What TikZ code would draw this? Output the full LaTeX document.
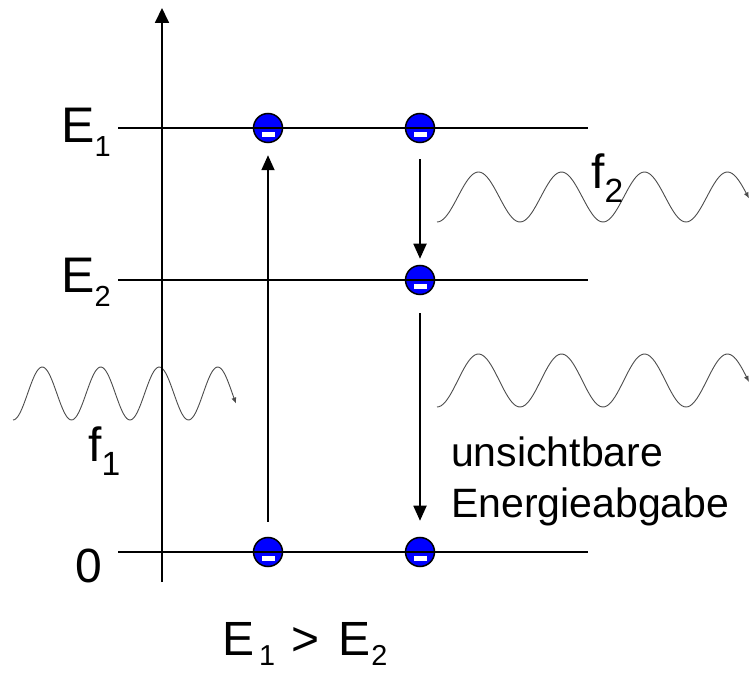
\documentclass[tikz,border=0pt]{standalone}
\usepackage{fontspec}
\setmainfont{Liberation Sans}
\usetikzlibrary{arrows.meta,positioning}
\newcommand{\idx}[3][0.58]{\raisebox{-#2}{\scalebox{#1}{#3}}}

\begin{document}
\begin{tikzpicture}[x=1pt,y=-1pt,
  level/.style={draw=black, line width=1.8pt},
  axis/.style={-{Triangle[length=15pt,width=14pt]}, draw=black, line width=1.8pt},
  electron/.style={circle, draw=black, line width=1.5pt, fill=blue,
    minimum size=29pt, inner sep=0pt,
    path picture={\fill[white] ([xshift=-6.5pt,yshift=-4pt]path picture bounding box.center)
      rectangle ++(13pt,-5pt);}},
  flow/.style={-{Triangle[length=15pt,width=13pt]}, draw=black, line width=1.8pt},
  wave/.style={draw=black!70, line width=0.9pt, -{Latex[length=6pt,width=5pt]}},
  lvltext/.style={font=\fontsize{50}{50}\selectfont, inner sep=0pt, anchor=base west},
  note/.style={font=\fontsize{41}{41}\selectfont, inner sep=0pt, anchor=base west}
]
\useasboundingbox (0,0) rectangle (756,676);

% photons
\draw[wave] plot[domain=13:236, samples=150] (\x, {393.5+26.5*cos(6.154*(\x-13))});
\draw[wave] plot[domain=437:749, samples=150] (\x, {197+25*cos(4.337*(\x-437))});
\draw[wave] plot[domain=437:749, samples=150] (\x, {380.5+26.5*cos(4.337*(\x-437))});

% energy axis
\coordinate (ybot) at (162,582);
\coordinate (ytop) at (162,8);
\draw[axis] (ybot) -- (ytop);

% electrons
\node[electron] (up1) at (268,128) {};
\node[electron] (up2) at (420,128) {};
\node[electron] (mid) at (420,280) {};
\node[electron] (gnd1) at (268,552) {};
\node[electron] (gnd2) at (420,552) {};

% levels
\coordinate (l1a) at (118,128); \coordinate (l1b) at (588,128);
\coordinate (l2a) at (118,280); \coordinate (l2b) at (588,280);
\coordinate (l0a) at (118,552); \coordinate (l0b) at (588,552);
\draw[level] (l1a) -- (l1b);
\draw[level] (l2a) -- (l2b);
\draw[level] (l0a) -- (l0b);

% transitions
\draw[flow, shorten <=15pt, shorten >=12pt] (gnd1) -- (up1);
\draw[flow, shorten <=16pt, shorten >=6pt] (up2) -- (mid);
\draw[flow, shorten <=18pt, shorten >=16pt] (mid) -- (gnd2);

% labels
\node[lvltext] (e1) at (61,143) {E\idx{0.28em}{1}};
\node[lvltext] (e2) at (61,293) {E\idx{0.28em}{2}};
\node[lvltext, font=\fontsize{48}{48}\selectfont] (zero) at (75,583) {0};
\node[lvltext, font=\fontsize{48}{48}\selectfont] (f1) at (88,462) {f\idx[0.7]{0.28em}{1}};
\node[lvltext, font=\fontsize{48}{48}\selectfont] (f2) at (591,189) {f\idx[0.7]{0.28em}{2}};
\node[note] (note1) at (451,467) {unsichtbare};
\node[note] (note2) at (451,518) {Energieabgabe};
\node[lvltext, font=\fontsize{48}{48}\selectfont] (rel) at (222,655)
  {E\hspace{5pt}\idx[0.6]{10pt}{1}\hspace{16pt}>\hspace{19pt}E\hspace{1pt}\idx[0.6]{10pt}{2}};
\end{tikzpicture}
\end{document}
